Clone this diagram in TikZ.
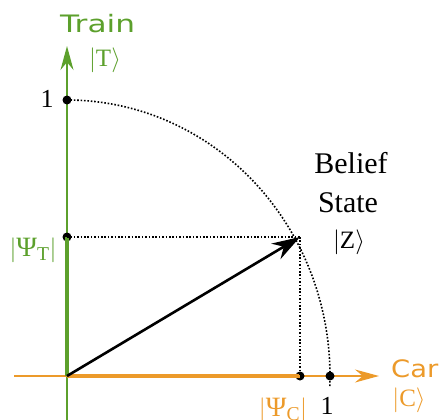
\documentclass[tikz,border=0pt]{standalone}
\usepackage{fontspec}
\setmainfont{Liberation Serif}
\newfontfamily\sansf{DejaVu Sans}
\usetikzlibrary{arrows.meta}
\definecolor{tgreen}{RGB}{92,160,44}
\definecolor{corange}{RGB}{236,154,42}
\newcommand{\axisfont}{\sansf\fontsize{24pt}{24pt}\selectfont}
\newcommand{\ketfont}{\fontsize{25pt}{25pt}\selectfont}
\newcommand{\bigfont}{\fontsize{30pt}{30pt}\selectfont}
\newcommand{\numfont}{\fontsize{26pt}{26pt}\selectfont}
\newcommand{\psifont}{\fontsize{28pt}{28pt}\selectfont}
\tikzset{
  axis/.style={line width=1.4pt},
  comp/.style={line width=3.6pt},
  guide/.style={line width=1.6pt, dash pattern=on 1.6pt off 1.8pt},
  dot/.style={circle, fill=black, inner sep=0pt, minimum size=9pt},
  lbl/.style={inner sep=0pt},
}
\begin{document}
\begin{tikzpicture}[x=1pt,y=-1pt]
\useasboundingbox (0,0) rectangle (439,420);
% coordinates
\coordinate (O) at (67,376);
\coordinate (Vbot) at (67,420);
\coordinate (Vtop) at (67,46);
\coordinate (Hleft) at (14,376);
\coordinate (Hright) at (379,376);
% axes
\draw[axis, tgreen, -{Stealth[length=24pt,width=13pt]}] (Vbot) -- (Vtop);
\draw[axis, corange, -{Stealth[length=24pt,width=13pt]}] (Hleft) -- (Hright);
% dots
\node[dot] (one1) at (67,100) {};
\node[dot] (pT) at (67,237) {};
\node[dot] (pC) at (300,376) {};
\node[dot] (one2) at (330,376) {};
\coordinate (Z) at (300,237);
% components
\draw[comp, tgreen] (O) -- (pT.center);
\draw[comp, corange] (O) -- (pC.center);
% guides
\draw[guide] (pT.center) -- (Z);
\draw[guide] (Z) -- (pC.center);
\draw[guide] (one1.center) arc[start angle=90, end angle=-2.1, x radius=263, y radius=-276];
% state vector
\draw[line width=2.6pt, -{Stealth[length=28pt,width=18pt]}] (O) -- (Z);
% labels
\node[lbl, text=tgreen, anchor=base west] (train) at (60,33) {\axisfont\scalebox{1.3}[1]{Train}};
\node[lbl, text=tgreen, anchor=center] (ketT) at (105,60) {\ketfont$|$T$\rangle$};
\node[lbl, text=corange, anchor=base west] (car) at (391,377) {\axisfont\scalebox{1.14}[1]{Car}};
\node[lbl, text=corange, anchor=center] (ketC) at (409,400) {\ketfont$|$C$\rangle$};
\node[lbl, anchor=base] (belief) at (351,173) {\bigfont Belief};
\node[lbl, anchor=base] (state) at (348,212) {\bigfont State};
\node[lbl, anchor=center] (ketZ) at (349,242) {\ketfont$|$Z$\rangle$};
\node[lbl, anchor=base] (lone1) at (47,107) {\numfont 1};
\node[lbl, anchor=base] (lone2) at (327,414) {\numfont 1};
\node[lbl, text=tgreen, anchor=center] (psiT) at (33,250) {\psifont$|$Ψ\textsubscript{T}$|$};
\node[lbl, text=corange, anchor=center] (psiC) at (283,410) {\psifont$|$Ψ\textsubscript{C}$|$};
\end{tikzpicture}
\end{document}
